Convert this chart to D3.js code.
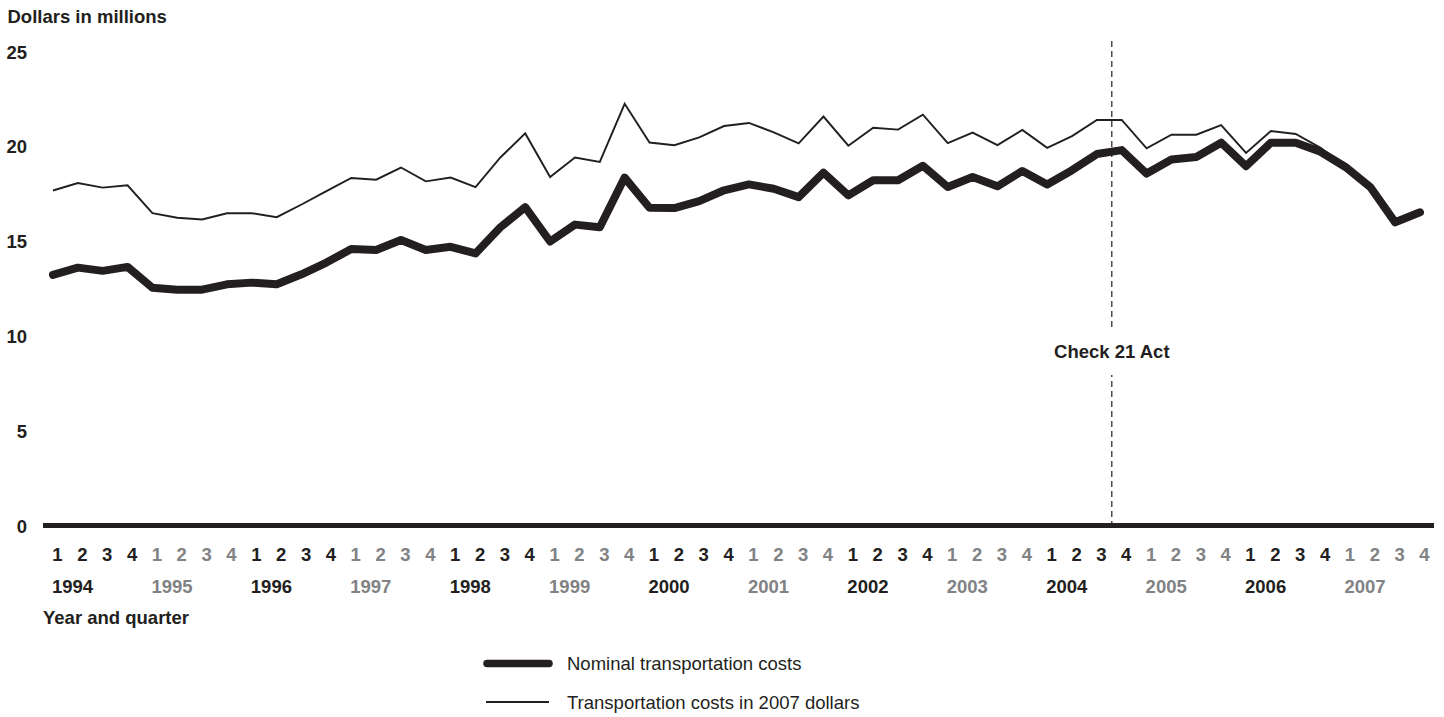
<!DOCTYPE html>
<html>
<head>
<meta charset="utf-8">
<script src="https://cdn.jsdelivr.net/npm/d3@7"></script>
<style>
  html, body { margin: 0; padding: 0; background: #fff; }
  svg { display: block; font-family: "Liberation Sans", Arial, Helvetica, sans-serif; }
</style>
</head>
<body>
<svg id="chart" width="1444" height="717"></svg>
<script>
// ---- Data ----
const years = ["1994","1995","1996","1997","1998","1999","2000","2001","2002","2003","2004","2005","2006","2007"];
const quarterLabels = ["1","2","3","4"];
const yTicks = [0, 5, 10, 15, 20, 25];

// Nominal transportation costs (dollars in millions), 1994Q1 .. 2007Q4
const nominal = [
  13.22, 13.60, 13.43, 13.64,
  12.54, 12.44, 12.44, 12.72,
  12.81, 12.72, 13.25, 13.87,
  14.58, 14.53, 15.06, 14.53,
  14.70, 14.35, 15.73, 16.79,
  14.98, 15.87, 15.73, 18.35,
  16.76, 16.74, 17.11, 17.68,
  17.99, 17.76, 17.32, 18.61,
  17.41, 18.21, 18.21, 18.97,
  17.85, 18.38, 17.89, 18.70,
  17.99, 18.74, 19.59, 19.80,
  18.56, 19.30, 19.44, 20.19,
  18.95, 20.19, 20.19, 19.71,
  18.91, 17.85, 15.99, 16.52
];
// Transportation costs in 2007 dollars
const real2007 = [
  17.67, 18.06, 17.82, 17.94,
  16.47, 16.23, 16.14, 16.47,
  16.47, 16.26, 16.93, 17.64,
  18.33, 18.24, 18.88, 18.15,
  18.35, 17.85, 19.41, 20.68,
  18.38, 19.41, 19.18, 22.24,
  20.20, 20.06, 20.47, 21.07,
  21.23, 20.74, 20.15, 21.57,
  20.03, 20.98, 20.88, 21.67,
  20.17, 20.72, 20.06, 20.86,
  19.92, 20.54, 21.39, 21.39,
  19.89, 20.61, 20.61, 21.12,
  19.65, 20.81, 20.65, 19.92,
  18.91, 17.85, 15.99, 16.52
];
const seriesNames = ["Nominal transportation costs", "Transportation costs in 2007 dollars"];
const eventIndex = [42.6];
const eventLabel = ["Check 21 Act"];

// ---- Chart ----
const INK = "#231f20";
const GRAY = "#818284";
const FONT = 18.5;

const svg = d3.select("#chart");
const n = nominal.length;

const x = d3.scaleLinear().domain([0, n - 1]).range([53, 1420]);
const y = d3.scaleLinear().domain([0, 25]).range([525.5, 51.5]);

// Y axis title
svg.append("text")
  .attr("x", 7.5).attr("y", 23.3)
  .attr("font-size", FONT).attr("font-weight", "bold").attr("fill", INK)
  .text("Dollars in millions");

// Y axis labels
const yAxis = d3.axisLeft(y).tickValues(yTicks).tickSize(0).tickPadding(0).tickFormat(d3.format("d"));
const yg = svg.append("g").attr("transform", "translate(27,0)").call(yAxis);
yg.select(".domain").remove();
yg.selectAll("text")
  .attr("font-size", FONT).attr("font-weight", "bold").attr("fill", INK)
  .attr("font-family", "\"Liberation Sans\", Arial, sans-serif")
  .attr("dy", "0.36em");

// Zero baseline
svg.append("line")
  .attr("x1", x(0) - 10).attr("x2", x(n - 1) + 14)
  .attr("y1", y(0)).attr("y2", y(0))
  .attr("stroke", INK).attr("stroke-width", 5);

// Event line
svg.selectAll(".event").data(eventIndex).enter().append("line")
  .attr("x1", d => x(d)).attr("x2", d => x(d))
  .attr("y1", 41).attr("y2", y(0))
  .attr("stroke", INK).attr("stroke-width", 1.2)
  .attr("stroke-dasharray", "6,4");
svg.selectAll(".eventMask").data(eventIndex).enter().append("rect")
  .attr("x", d => x(d) - 62).attr("y", 328)
  .attr("width", 124).attr("height", 47)
  .attr("fill", "#fff");
svg.selectAll(".eventLabel").data(eventIndex).enter().append("text")
  .attr("x", d => x(d)).attr("y", 358.3)
  .attr("text-anchor", "middle")
  .attr("font-size", FONT).attr("font-weight", "bold").attr("fill", INK)
  .text((d, i) => eventLabel[i]);

// Lines
const line = d3.line().x((d, i) => x(i)).y(d => y(d));
svg.append("path").datum(nominal)
  .attr("d", line).attr("fill", "none")
  .attr("stroke", INK).attr("stroke-width", 8)
  .attr("stroke-linejoin", "round").attr("stroke-linecap", "round");
svg.append("path").datum(real2007)
  .attr("d", line).attr("fill", "none")
  .attr("stroke", INK).attr("stroke-width", 1.9)
  .attr("stroke-linejoin", "miter");

// X axis labels: quarters
const quarterData = [];
years.forEach((yr, yi) => {
  quarterLabels.forEach((q, qi) => {
    quarterData.push({ idx: yi * 4 + qi, q: q, yi: yi });
  });
});
svg.selectAll(".qlab").data(quarterData).enter().append("text")
  .attr("x", d => x(d.idx) + 4.5).attr("y", 561)
  .attr("text-anchor", "middle")
  .attr("font-size", FONT).attr("font-weight", "bold")
  .attr("fill", d => d.yi % 2 === 0 ? INK : GRAY)
  .text(d => d.q);

svg.selectAll(".ylab").data(years).enter().append("text")
  .attr("x", (d, i) => x(i * 4) - 1).attr("y", 593)
  .attr("text-anchor", "start")
  .attr("font-size", FONT).attr("font-weight", "bold")
  .attr("fill", (d, i) => i % 2 === 0 ? INK : GRAY)
  .text(d => d);

svg.append("text")
  .attr("x", 43).attr("y", 624)
  .attr("font-size", FONT).attr("font-weight", "bold").attr("fill", INK)
  .text("Year and quarter");

// Legend
const legend = svg.append("g");
const legendY = [663.5, 702];
legend.append("line")
  .attr("x1", 487).attr("x2", 549).attr("y1", legendY[0]).attr("y2", legendY[0])
  .attr("stroke", INK).attr("stroke-width", 7.5).attr("stroke-linecap", "round");
legend.append("line")
  .attr("x1", 486).attr("x2", 549).attr("y1", legendY[1]).attr("y2", legendY[1])
  .attr("stroke", INK).attr("stroke-width", 1.9);
legend.selectAll(".ltext").data(seriesNames).enter().append("text")
  .attr("x", 567).attr("y", (d, i) => legendY[i] + 6.5)
  .attr("font-size", FONT).attr("fill", INK)
  .text(d => d);
</script>
</body>
</html>
